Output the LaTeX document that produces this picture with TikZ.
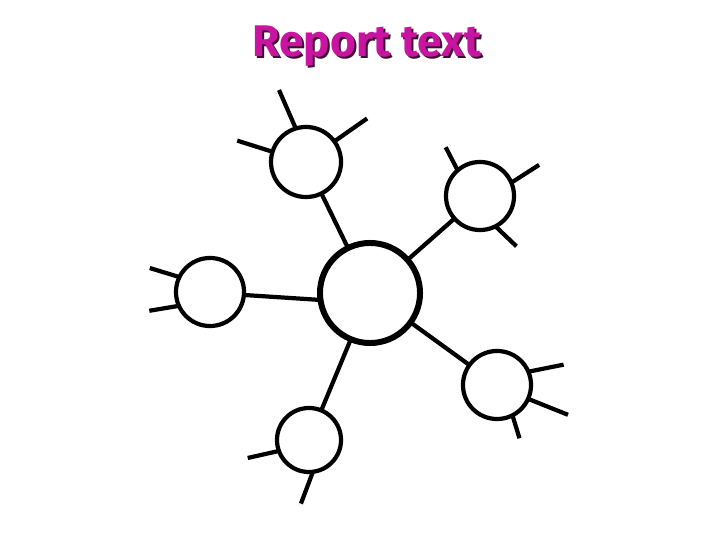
\documentclass[tikz,border=0pt]{standalone}
\usepackage{fontspec}
\newfontfamily\titlefont{Fira Sans}
\definecolor{titlepink}{RGB}{200,20,160}
\definecolor{titleshade}{RGB}{60,15,50}
\begin{document}
\begin{tikzpicture}[x=0.01cm,y=-0.01cm,
    bubble/.style={draw,circle,line width=1.2pt,inner sep=0pt,outer sep=0pt,minimum size=#1},
    spoke/.style={line width=1.2pt},
    heading/.style={font=\titlefont\bfseries\fontsize{12.6}{13}\selectfont}]
  \useasboundingbox (0,0) rectangle (728,546);
  % title with its shadow
  \node[heading,titleshade] (shade) at (369,48) {Report text};
  \node[heading,titlepink] (title) at (367,46) {Report text};
  % hub and the bubbles round it
  \node[bubble=1.0cm,line width=1.7pt] (hub) at (370,293) {};
  \node[bubble=0.70cm] (tl) at (306,162) {};
  \node[bubble=0.68cm] (lf) at (210,292) {};
  \node[bubble=0.68cm] (tr) at (480,196) {};
  \node[bubble=0.68cm] (br) at (497,385) {};
  \node[bubble=0.64cm] (bt) at (309,440) {};
  \foreach \n in {tl,tr,br,bt}
    \draw[spoke] (hub) -- (\n);
  \draw[spoke] (lf.-5) -- (hub.188);
  % short spokes on the bubbles
  \foreach \n/\a/\d/\l in {tl/107/113.5/42, tl/163/162.5/37, tl/36/35/40,
                           lf/154/163/31, lf/204/189.5/30,
                           tr/131/117.5/26, tr/23/32.7/33, tr/297/316.4/29,
                           br/23/11.3/36, br/336/338.2/43, br/297/287/24,
                           bt/200/192.7/32, bt/277/249.4/34}
    \draw[spoke] (\n.\a) -- ++({-\d}:\l);
\end{tikzpicture}
\end{document}
